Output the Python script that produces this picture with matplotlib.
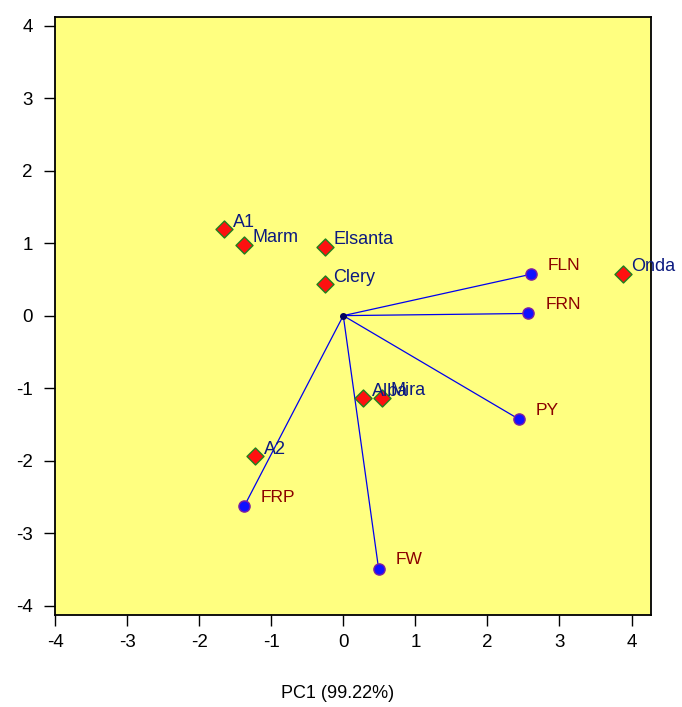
import matplotlib
matplotlib.use("Agg")
import matplotlib.pyplot as plt

plt.rcParams['font.family'] = ['Liberation Sans', 'DejaVu Sans']

genotypes = ["A1", "Marm", "Elsanta", "Clery", "Onda", "Alba", "Mira", "A2"]
geno_x = [-1.65, -1.375, -0.25, -0.26, 3.875, 0.28, 0.54, -1.22]
geno_y = [1.19, 0.98, 0.95, 0.43, 0.58, -1.14, -1.13, -1.94]

traits = ["FLN", "FRN", "PY", "FRP", "FW"]
trait_x = [2.6, 2.57, 2.44, -1.375, 0.49]
trait_y = [0.57, 0.03, -1.43, -2.63, -3.49]

xticks = [-4, -3, -2, -1, 0, 1, 2, 3, 4]
yticks = [-4, -3, -2, -1, 0, 1, 2, 3, 4]

fig = plt.figure(figsize=(6.82, 7.07), dpi=100)
ax = fig.add_axes([55/682, 92/707, 596/682, 598/707])
ax.set_facecolor('#ffff80')
ax.set_xlim(-4.0, 4.27)
ax.set_ylim(-4.13, 4.12)

for tx, ty in zip(trait_x, trait_y):
    ax.plot([0, tx], [0, ty], color='#0000ee', lw=0.9, zorder=2)
ax.plot([0], [0], 'o', color='#000060', ms=4, zorder=3)

ax.scatter(trait_x, trait_y, s=65, c='#1010ff', edgecolors='#8020a0', linewidths=1.0, zorder=4)
for name, tx, ty in zip(traits, trait_x, trait_y):
    ax.annotate(name, (tx, ty), xytext=(12, 1), textcoords='offset points',
                color='#8b0000', fontsize=12.5, va='bottom', ha='left', zorder=5)

ax.scatter(geno_x, geno_y, s=75, marker='D', c='#ff1010', edgecolors='#208020', linewidths=1.0, zorder=4)
for name, gx, gy in zip(genotypes, geno_x, geno_y):
    ax.annotate(name, (gx, gy), xytext=(6, -1), textcoords='offset points',
                color='#0c1a80', fontsize=13, va='bottom', ha='left', zorder=5)

ax.set_xticks(xticks)
ax.set_yticks(yticks)
ax.set_xticklabels([str(v) for v in xticks])
ax.set_yticklabels([str(v) for v in yticks])
ax.tick_params(direction='out', length=8, width=1, labelsize=13.5, colors='black')
ax.tick_params(axis='y', pad=8)
ax.tick_params(axis='x', pad=6)
for sp in ax.spines.values():
    sp.set_linewidth(1.3)
    sp.set_color('black')

fig.text(338/682, 1 - 693/707, "PC1 (99.22%)", ha='center', va='center', fontsize=13)

fig.savefig("out.png", dpi=100)
